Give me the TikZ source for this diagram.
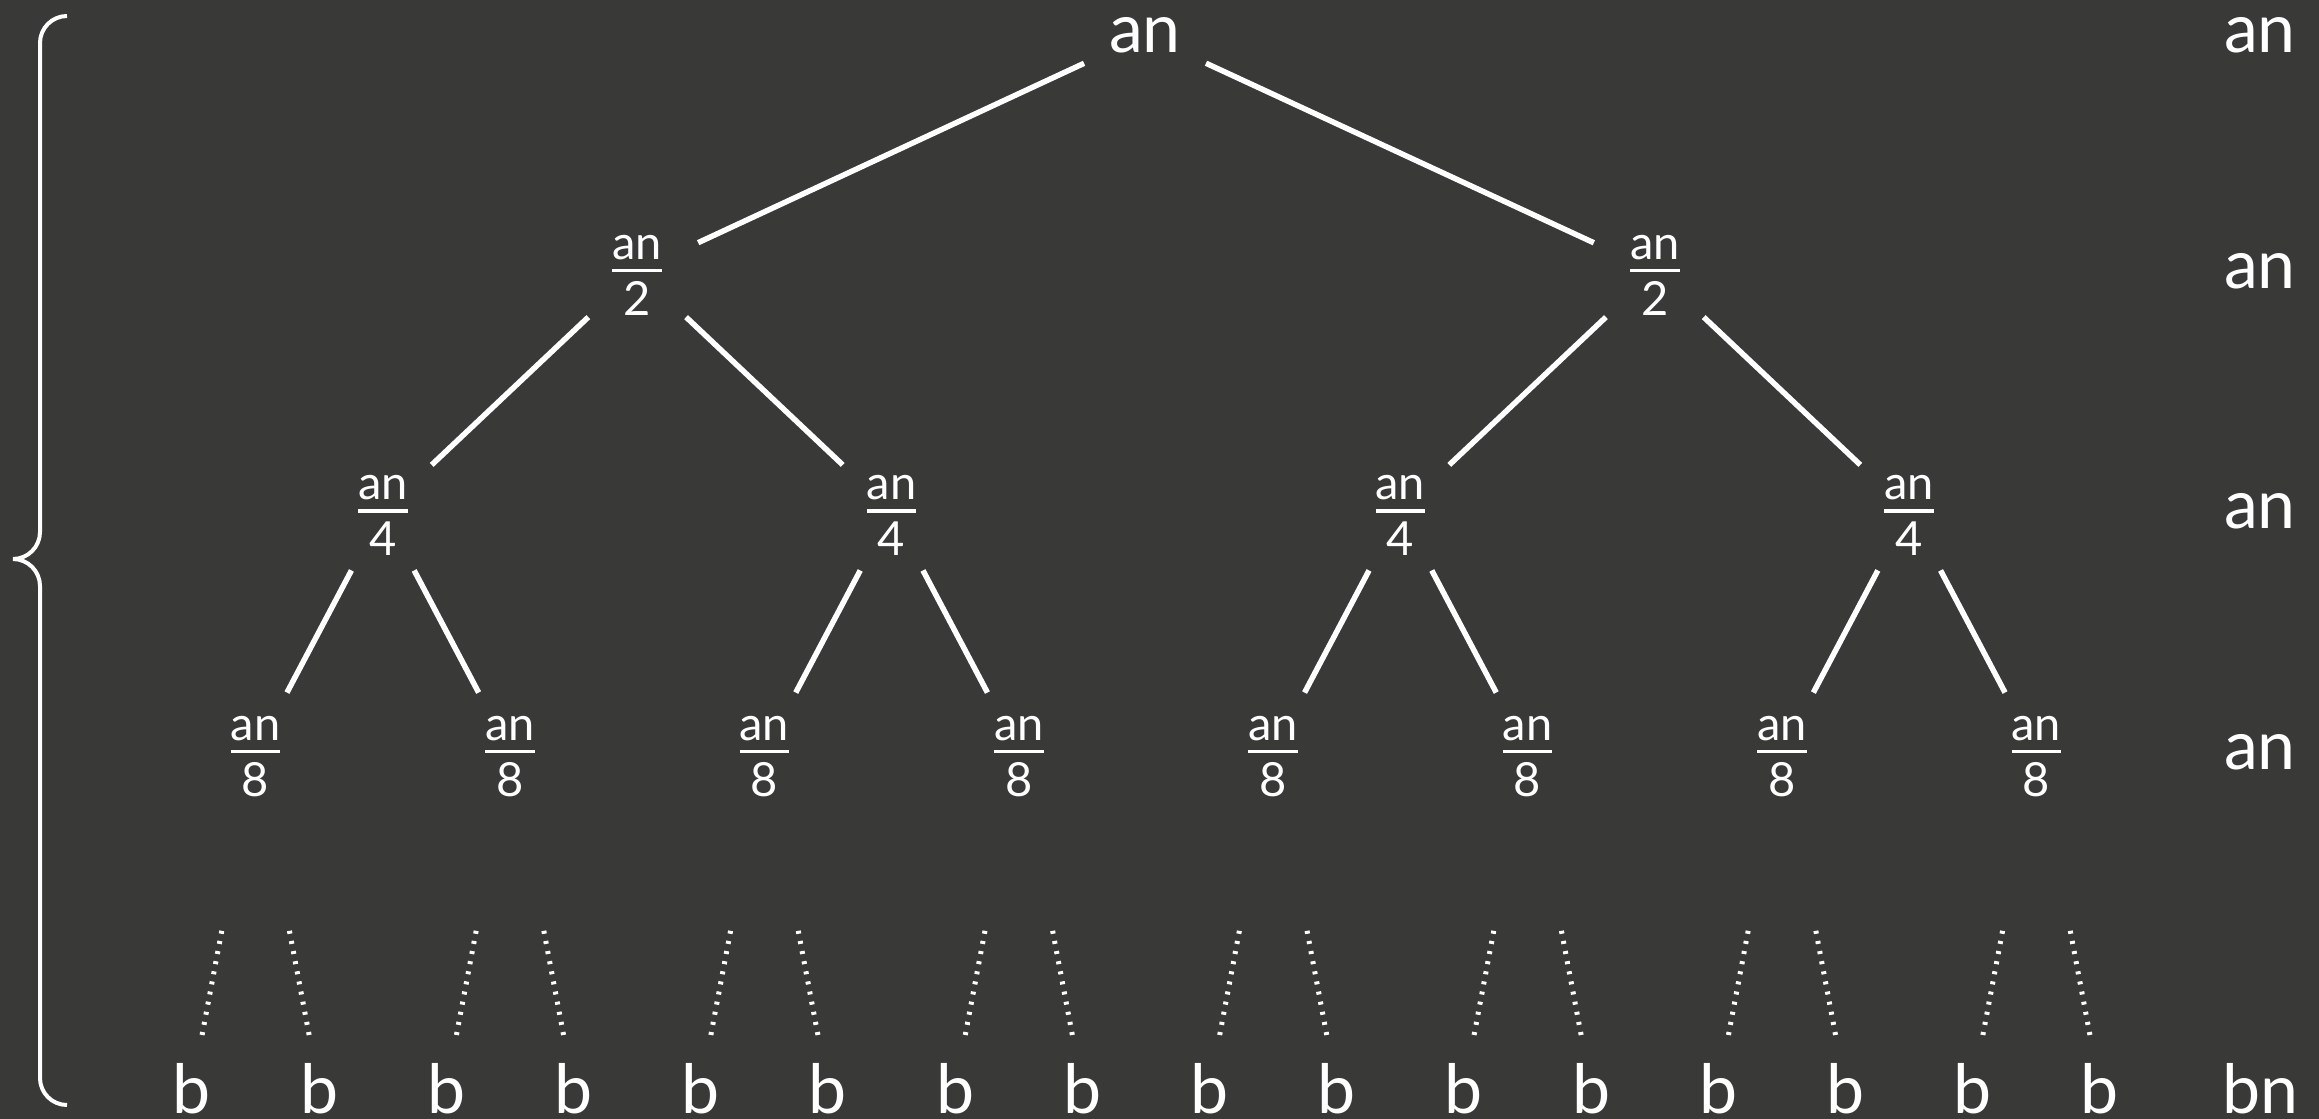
\documentclass[tikz,border=0pt]{standalone}
\usepackage{fontspec}
\setmainfont{Lato}
\usetikzlibrary{positioning}

\definecolor{board}{RGB}{57,57,56}

% fraction an/#1 with the bar on the middle of the box
\newcommand\frc[1]{\vbox{\halign{\hfil##\hfil\cr\rule{0pt}{33pt}an\cr\noalign{\kern9pt\hrule height3.5pt\kern9pt}#1\cr}}}

\begin{document}
\begin{tikzpicture}[
    %	style def
    x=1pt, y=-1pt,
    big/.style={font=\fontsize{68}{80}\selectfont, text=white},
    topnode/.style={circle, minimum size=134pt, inner sep=0pt, big},
    frnode/.style={circle, minimum size=134pt, inner sep=0pt, font=\fontsize{47}{56}\selectfont, text=white},
    leaf/.style={big, anchor=base, inner sep=0pt},
    edge/.style={white, line width=5.5pt},
    dotline/.style={white, line width=5pt, dash pattern=on 3pt off 7.3pt, shorten <=182pt, shorten >=53pt},
    brace/.style={white, line width=4pt, rounded corners=27pt}
    ]

    % board
    \useasboundingbox (0,0) rectangle (2319,1119);
    \fill[board] (0,0) rectangle (2319,1119);

    % tree nodes
    \node[topnode] (r) at (1145,35) {an};
    \foreach \j in {1,2}
        \node[frnode] (n1-\j) at ({637.2+1017.6*(\j-1)},271) {\frc{2}};
    \foreach \j in {1,...,4}
        \node[frnode] (n2-\j) at ({382.8+508.8*(\j-1)},511) {\frc{4}};
    \foreach \j in {1,...,8}
        \node[frnode] (n3-\j) at ({255.6+254.4*(\j-1)},752) {\frc{8}};
    \foreach \i in {1,...,16}
        \node[leaf] (b\i) at ({192+127.2*(\i-1)},1113) {b};

    % cost per level
    \foreach \y [count=\i] in {35,271,511,752}
        \node[big] (cost\i) at (2260,\y) {an};
    \node[leaf] (bn) at (2260,1113) {bn};

    % connecting levels
    \foreach \j in {1,2}
        \draw[edge] (r) -- (n1-\j);
    \foreach \j in {1,...,4} {
        \pgfmathtruncatemacro\p{(\j+1)/2}
        \draw[edge] (n1-\p) -- (n2-\j);
    }
    \foreach \j in {1,...,8} {
        \pgfmathtruncatemacro\p{(\j+1)/2}
        \draw[edge] (n2-\p) -- (n3-\j);
    }
    % dotted down to the leaves
    \foreach \j in {1,...,8} {
        \pgfmathtruncatemacro\ka{2*\j-1}
        \pgfmathtruncatemacro\kb{2*\j}
        \draw[dotline] (n3-\j.center) -- (b\ka.center);
        \draw[dotline] (n3-\j.center) -- (b\kb.center);
    }

    % brace over the height
    \draw[brace] (67,16) -- (40,16) -- (40,559) -- (13,559);
    \draw[brace] (13,559) -- (40,559) -- (40,1105) -- (67,1105);
\end{tikzpicture}
\end{document}
